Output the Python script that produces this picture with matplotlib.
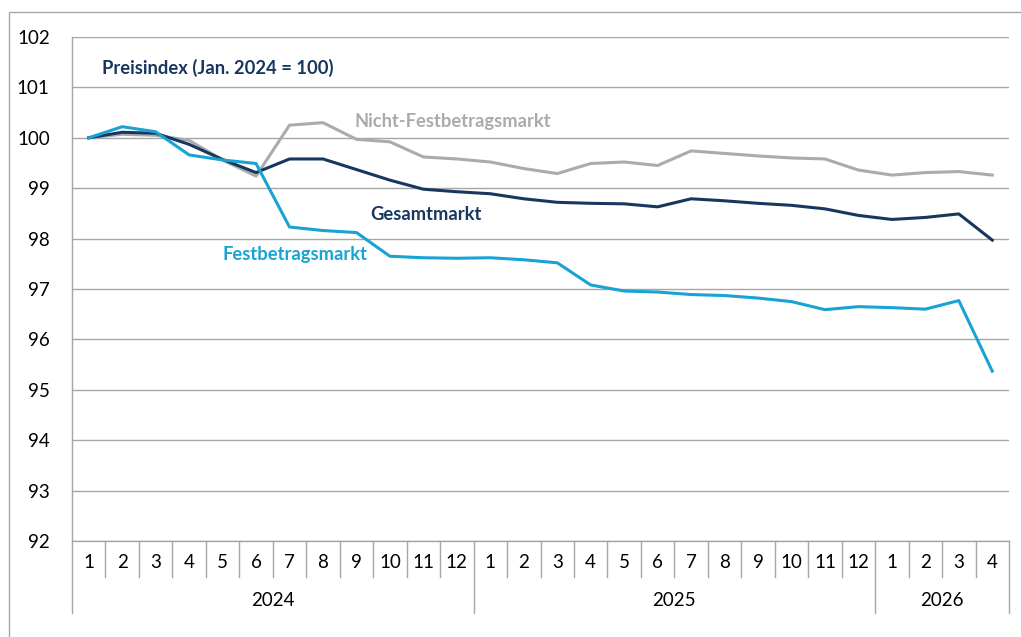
import matplotlib
matplotlib.use("Agg")
from matplotlib import pyplot
from matplotlib import transforms
from matplotlib.patches import Rectangle

# Data

years = ["2024", "2025", "2026"]
monthsPerYear = [12, 12, 4]

gesamtmarkt = [100.00, 100.11, 100.09, 99.87, 99.57, 99.31, 99.58, 99.58, 99.37, 99.16, 98.98, 98.93,
               98.89, 98.79, 98.72, 98.70, 98.69, 98.63, 98.79, 98.75, 98.70, 98.66, 98.59, 98.46,
               98.38, 98.42, 98.49, 97.97]
festbetragsmarkt = [100.00, 100.22, 100.12, 99.66, 99.56, 99.49, 98.23, 98.16, 98.12, 97.65, 97.62, 97.61,
                    97.62, 97.58, 97.52, 97.08, 96.96, 96.94, 96.89, 96.87, 96.82, 96.75, 96.59, 96.65,
                    96.63, 96.60, 96.77, 95.37]
nichtFestbetragsmarkt = [100.00, 100.07, 100.05, 99.95, 99.56, 99.24, 100.25, 100.30, 99.97, 99.92, 99.62, 99.58,
                         99.52, 99.39, 99.29, 99.49, 99.52, 99.45, 99.74, 99.69, 99.64, 99.60, 99.58, 99.36,
                         99.26, 99.31, 99.33, 99.26]

# Styles

navyColor = "#17375e"
cyanColor = "#18a3d2"
grayColor = "#a9abae"
gridColor = "#a6a6a6"
fontName = ["Lato", "DejaVu Sans"]

pyplot.rcParams["font.family"] = fontName

fig = pyplot.figure(figsize = (10.21, 6.37), dpi = 100)
ax = fig.add_axes([72 / 1021, 96 / 637, 937 / 1021, 504 / 637])

# Outer frame

frame = Rectangle((9 / 1021, -0.1), 1.2, 1.1 - 12 / 637, transform = fig.transFigure,
                  fill = False, edgecolor = gridColor, linewidth = 1.0, zorder = -5)
fig.patches.append(frame)

# Series

xPositions = list(range(len(gesamtmarkt)))

ax.plot(xPositions, nichtFestbetragsmarkt, color = grayColor, linewidth = 2.2, zorder = 3)
ax.plot(xPositions, gesamtmarkt, color = navyColor, linewidth = 2.2, zorder = 4)
ax.plot(xPositions, festbetragsmarkt, color = cyanColor, linewidth = 2.2, zorder = 5)

# Axes

ax.set_xlim(-0.5, len(xPositions) - 0.5)
ax.set_ylim(92, 102)
ax.set_yticks(range(92, 103))
ax.yaxis.grid(True, color = gridColor, linewidth = 1.0)
ax.set_axisbelow(True)
ax.tick_params(axis = "y", length = 0, pad = 16, labelsize = 13.5)
ax.set_xticks([])

for side in ["top", "right"]:
    ax.spines[side].set_visible(False)
for side in ["left", "bottom"]:
    ax.spines[side].set_color(gridColor)
    ax.spines[side].set_linewidth(1.0)

# Two level category axis

axesHeight = 504.0
monthY = -22 / axesHeight
yearY = -60 / axesHeight
monthTickY = -36 / axesHeight
yearTickY = -72 / axesHeight

trans = transforms.blended_transform_factory(ax.transData, ax.transAxes)

start = 0
for year, count in zip(years, monthsPerYear):
    for m in range(count):
        ax.text(start + m, monthY, str(m + 1), transform = trans, ha = "center", va = "center",
                fontsize = 13.5, color = "#000000")
        if m > 0:
            ax.plot([start + m - 0.5, start + m - 0.5], [0, monthTickY], transform = trans,
                    color = gridColor, linewidth = 1.0, clip_on = False)
    ax.plot([start - 0.5, start - 0.5], [0, yearTickY], transform = trans,
            color = gridColor, linewidth = 1.0, clip_on = False)
    ax.text(start + (count - 1) / 2.0, yearY, year, transform = trans, ha = "center", va = "center",
            fontsize = 13.5, color = "#000000")
    start += count

ax.plot([start - 0.5, start - 0.5], [0, yearTickY], transform = trans,
        color = gridColor, linewidth = 1.0, clip_on = False)

# Labels

labelSize = 13.2

ax.text(0.4, 101.38, "Preisindex (Jan. 2024 = 100)", color = navyColor, fontsize = labelSize,
        fontweight = "bold", va = "center", ha = "left")
ax.text(7.95, 100.33, "Nicht-Festbetragsmarkt", color = grayColor, fontsize = labelSize,
        fontweight = "bold", va = "center", ha = "left")
ax.text(8.4, 98.47, "Gesamtmarkt", color = navyColor, fontsize = labelSize,
        fontweight = "bold", va = "center", ha = "left")
ax.text(4.0, 97.69, "Festbetragsmarkt", color = cyanColor, fontsize = labelSize,
        fontweight = "bold", va = "center", ha = "left")

fig.savefig("out.png", dpi = 100)
pyplot.close()
